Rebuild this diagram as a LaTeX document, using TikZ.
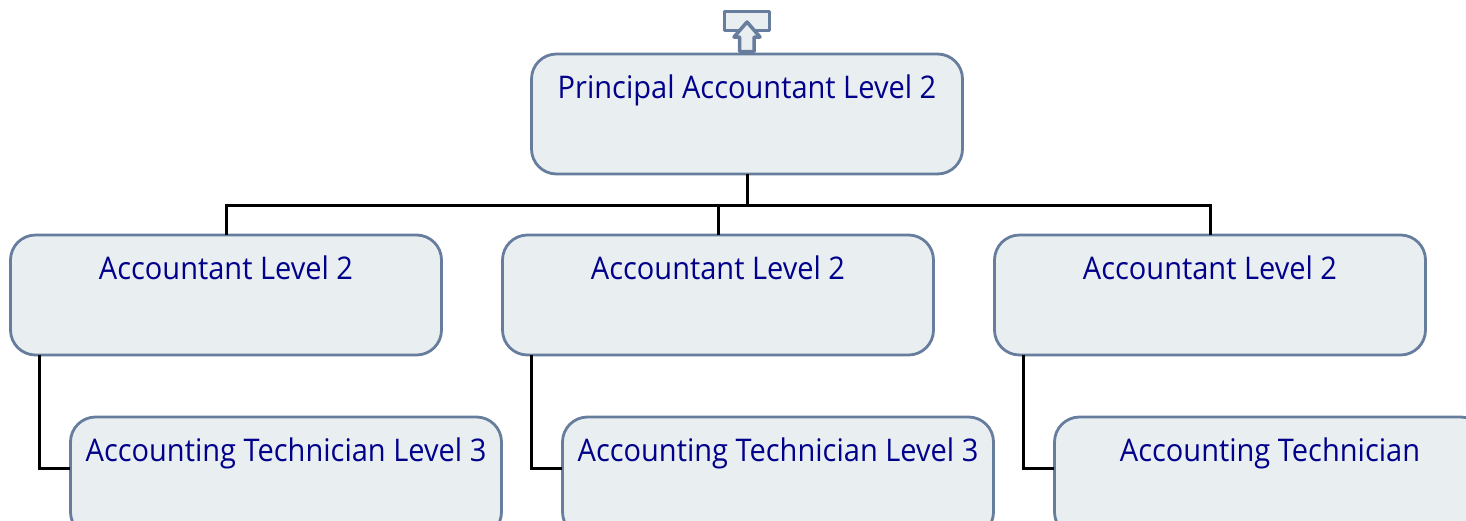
\documentclass[tikz,border=0pt]{standalone}
\usepackage{fontspec}
\setmainfont[FakeStretch=0.93]{Open Sans}
\definecolor{boxline}{HTML}{667D9E}
\definecolor{boxfill}{HTML}{E9EEF1}
\definecolor{boxtext}{HTML}{00008B}
\newcommand{\boxtxt}[1]{\parbox[c][120pt][t]{431pt}{\centering\vspace*{21pt}\fontsize{31.2}{35}\selectfont #1}}
\tikzset{
  orgbox/.style={draw=boxline,fill=boxfill,line width=2.8pt,rounded corners=25pt,inner sep=0pt,outer sep=0pt,text=boxtext,minimum width=431pt,minimum height=120pt},
  link/.style={draw=black,line width=3pt},
  icon/.style={draw=boxline,fill=boxfill,line width=3.5pt,line join=round}
}
\begin{document}
\begin{tikzpicture}[x=1pt,y=-1pt]
\useasboundingbox (0,0) rectangle (1466,520);
\clip (0,0) rectangle (1466,520);
\coordinate (bus) at (747,205);
\coordinate (s1) at (39.5,355);
\coordinate (s2) at (531.5,355);
\coordinate (s3) at (1023.5,355);
\coordinate (e1) at (70,468);
\coordinate (e2) at (562,468);
\coordinate (e3) at (1054,468);
\node[orgbox] (top) at (747,114) {\boxtxt{Principal Accountant Level 2}};
\node[orgbox] (a1) at (226,295) {\boxtxt{Accountant Level 2}};
\node[orgbox] (a2) at (718,295) {\boxtxt{Accountant Level 2}};
\node[orgbox] (a3) at (1210,295) {\boxtxt{Accountant Level 2}};
\node[orgbox] (t1) at (286,477) {\boxtxt{Accounting Technician Level 3}};
\node[orgbox] (t2) at (778,477) {\boxtxt{Accounting Technician Level 3}};
\node[orgbox] (t3) at (1270,477) {\boxtxt{Accounting Technician}};
\draw[link] (top.south) -- (bus);
\draw[link] (bus) -| (a1.north);
\draw[link] (bus) -| (a2.north);
\draw[link] (bus) -| (a3.north);
\draw[link] (s1) |- (e1);
\draw[link] (s2) |- (e2);
\draw[link] (s3) |- (e3);
\draw[icon] (724.5,11.5) rectangle (769.5,30.5);
\draw[icon] (747,22) -- (760,37) -- (754,37) -- (754,51.5) -- (739.5,51.5) -- (739.5,37) -- (734,37) -- cycle;
\end{tikzpicture}
\end{document}
